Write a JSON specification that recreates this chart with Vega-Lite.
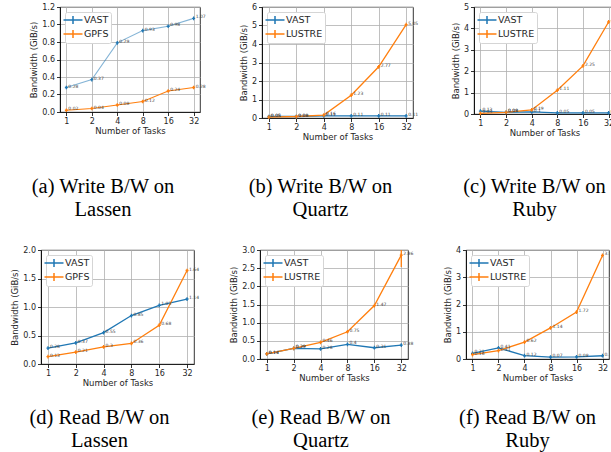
{
  "$schema": "https://vega.github.io/schema/vega-lite/v6.json",
  "background": "white",
  "padding": {"left": 10, "top": 2, "right": 0, "bottom": 0},
  "datasets": {
    "pts": [
      {"p":"a","s":"VAST","t":1,"v":0.28},{"p":"a","s":"VAST","t":2,"v":0.37},{"p":"a","s":"VAST","t":4,"v":0.79},{"p":"a","s":"VAST","t":8,"v":0.93},{"p":"a","s":"VAST","t":16,"v":0.98},{"p":"a","s":"VAST","t":32,"v":1.07},
      {"p":"a","s":"GPFS","t":1,"v":0.02},{"p":"a","s":"GPFS","t":2,"v":0.04},{"p":"a","s":"GPFS","t":4,"v":0.08},{"p":"a","s":"GPFS","t":8,"v":0.12},{"p":"a","s":"GPFS","t":16,"v":0.24},{"p":"a","s":"GPFS","t":32,"v":0.28},
      {"p":"b","s":"VAST","t":1,"v":0.08},{"p":"b","s":"VAST","t":2,"v":0.08},{"p":"b","s":"VAST","t":4,"v":0.11},{"p":"b","s":"VAST","t":8,"v":0.11},{"p":"b","s":"VAST","t":16,"v":0.11},{"p":"b","s":"VAST","t":32,"v":0.11},
      {"p":"b","s":"LUSTRE","t":1,"v":0.05},{"p":"b","s":"LUSTRE","t":2,"v":0.08},{"p":"b","s":"LUSTRE","t":4,"v":0.16},{"p":"b","s":"LUSTRE","t":8,"v":1.23},{"p":"b","s":"LUSTRE","t":16,"v":2.77},{"p":"b","s":"LUSTRE","t":32,"v":5.05},
      {"p":"c","s":"VAST","t":1,"v":0.13},{"p":"c","s":"VAST","t":2,"v":0.08},{"p":"c","s":"VAST","t":4,"v":0.1},{"p":"c","s":"VAST","t":8,"v":0.05},{"p":"c","s":"VAST","t":16,"v":0.05},{"p":"c","s":"VAST","t":32,"v":0.05},
      {"p":"c","s":"LUSTRE","t":1,"v":0.03},{"p":"c","s":"LUSTRE","t":2,"v":0.08},{"p":"c","s":"LUSTRE","t":4,"v":0.19},{"p":"c","s":"LUSTRE","t":8,"v":1.11},{"p":"c","s":"LUSTRE","t":16,"v":2.25},{"p":"c","s":"LUSTRE","t":32,"v":4.3},
      {"p":"d","s":"VAST","t":1,"v":0.28},{"p":"d","s":"VAST","t":2,"v":0.37},{"p":"d","s":"VAST","t":4,"v":0.55},{"p":"d","s":"VAST","t":8,"v":0.85},{"p":"d","s":"VAST","t":16,"v":1.03},{"p":"d","s":"VAST","t":32,"v":1.14},
      {"p":"d","s":"GPFS","t":1,"v":0.13},{"p":"d","s":"GPFS","t":2,"v":0.21},{"p":"d","s":"GPFS","t":4,"v":0.3},{"p":"d","s":"GPFS","t":8,"v":0.36},{"p":"d","s":"GPFS","t":16,"v":0.68},{"p":"d","s":"GPFS","t":32,"v":1.64},
      {"p":"e","s":"VAST","t":1,"v":0.14},{"p":"e","s":"VAST","t":2,"v":0.29},{"p":"e","s":"VAST","t":4,"v":0.28},{"p":"e","s":"VAST","t":8,"v":0.4},{"p":"e","s":"VAST","t":16,"v":0.31},{"p":"e","s":"VAST","t":32,"v":0.38},
      {"p":"e","s":"LUSTRE","t":1,"v":0.14},{"p":"e","s":"LUSTRE","t":2,"v":0.29},{"p":"e","s":"LUSTRE","t":4,"v":0.46},{"p":"e","s":"LUSTRE","t":8,"v":0.75},{"p":"e","s":"LUSTRE","t":16,"v":1.47},{"p":"e","s":"LUSTRE","t":32,"v":2.86},
      {"p":"f","s":"VAST","t":1,"v":0.21},{"p":"f","s":"VAST","t":2,"v":0.41},{"p":"f","s":"VAST","t":4,"v":0.12},{"p":"f","s":"VAST","t":8,"v":0.07},{"p":"f","s":"VAST","t":16,"v":0.08},{"p":"f","s":"VAST","t":32,"v":0.12},
      {"p":"f","s":"LUSTRE","t":1,"v":0.16},{"p":"f","s":"LUSTRE","t":2,"v":0.31},{"p":"f","s":"LUSTRE","t":4,"v":0.62},{"p":"f","s":"LUSTRE","t":8,"v":1.14},{"p":"f","s":"LUSTRE","t":16,"v":1.72},{"p":"f","s":"LUSTRE","t":32,"v":3.8}
    ],
    "err": [
      {"p":"e","s":"LUSTRE","t":32,"lo":2.53,"hi":3.2}
    ]
  },
  "config": {
    "font": "DejaVu Sans",
    "view": {"stroke": "#000000", "strokeWidth": 0.8},
    "axis": {"labelFont":"DejaVu Sans","labelFontSize":8,"labelColor":"#262626","titleFont":"DejaVu Sans","titleFontSize":8.5,"titleFontWeight":"normal","titleColor":"#262626","grid":true,"gridColor":"#b0b0b0","gridWidth":0.8,"gridOpacity":1,"tickColor":"#000000","tickSize":3.5,"tickWidth":0.8,"domainColor":"#000000","domainWidth":0.8,"labelPadding":2,"titlePadding":3,"labelFlush":false,"labelOverlap":false},
    "axisX": {"labelAngle":0, "titlePadding": 1},
    "title": {"font":"Liberation Serif","fontSize":20.5,"fontWeight":"normal","color":"#000000","anchor":"middle","frame":"group","lineHeight":23},
    "legend": {"orient":"top-left","offset":5,"padding":2,"strokeColor":"#d5d5d5","fillColor":"#ffffff","cornerRadius":2,"labelFont":"DejaVu Sans","labelFontSize":9.5,"labelColor":"#262626","labelOffset":5,"rowPadding":0}
  },
  "spacing": 24,
  "align": "none",
  "resolve": {"scale": {"color": "independent"}, "legend": {"color": "independent"}},
  "vconcat": [
    {
      "spacing": -13,
      "align": "none",
      "resolve": {"scale": {"color": "independent"}, "legend": {"color": "independent"}},
      "hconcat": [
        {"width": 1, "height": 1, "data": {"values": []}, "mark": "point", "view": {"stroke": null}},
        {
          "spacing": 32,
          "align": "none",
          "resolve": {"scale": {"color": "independent"}, "legend": {"color": "independent"}},
          "hconcat": [
            {
              "width": 140, "height": 105,
              "title": {"text": ["(a) Write B/W on", "Lassen"], "orient": "bottom", "offset": 42, "dx": -27},
              "data": {"name": "pts"},
              "transform": [{"filter": "datum.p === 'a'"}],
              "encoding": {
                "x": {"field": "t", "type": "quantitative", "scale": {"type": "log", "base": 2, "domain": [0.841, 38.05], "nice": false}, "axis": {"values": [1,2,4,8,16,32], "format": "d", "title": "Number of Tasks"}},
                "y": {"field": "v", "type": "quantitative", "scale": {"domain": [0, 1.2], "nice": false}, "axis": {"values": [0,0.2,0.4,0.6,0.8,1.0,1.2], "format": ".1f", "title": "Bandwidth (GiB/s)"}},
                "color": {"field": "s", "type": "nominal", "scale": {"domain": ["VAST","GPFS"], "range": ["#1f77b4","#ff7f0e"]}, "legend": {"title": null, "symbolType": "M-1.9,0H1.9M0,-0.8V0.8", "symbolSize": 100, "symbolStrokeWidth": 1.5}}
              },
              "layer": [
                {"mark": {"type": "line", "strokeWidth": 1.1}, "encoding": {"opacity": {"condition": {"test": "datum.s === 'VAST'", "value": 0.55}, "value": 1}}},
                {"mark": {"type": "point", "shape": "M0,-1V1M-0.8,0H0.8", "size": 14, "filled": false, "strokeWidth": 1.3, "opacity": 1}},
                {"mark": {"type": "text", "align": "left", "baseline": "middle", "dx": 2, "dy": -1, "fontSize": 4.5, "color": "#444444"}, "encoding": {"text": {"field": "v"}, "color": {"value": "#444444"}}}
              ]
            },
            {
              "width": 151, "height": 111,
              "title": {"text": ["(b) Write B/W on", "Quartz"], "orient": "bottom", "offset": 36, "dx": -17},
              "data": {"name": "pts"},
              "transform": [{"filter": "datum.p === 'b'"}],
              "encoding": {
                "x": {"field": "t", "type": "quantitative", "scale": {"type": "log", "base": 2, "domain": [0.841, 38.05], "nice": false}, "axis": {"values": [1,2,4,8,16,32], "format": "d", "title": "Number of Tasks"}},
                "y": {"field": "v", "type": "quantitative", "scale": {"domain": [0, 6], "nice": false}, "axis": {"values": [0,1,2,3,4,5,6], "format": "d", "title": "Bandwidth (GiB/s)"}},
                "color": {"field": "s", "type": "nominal", "scale": {"domain": ["VAST","LUSTRE"], "range": ["#1f77b4","#ff7f0e"]}, "legend": {"title": null, "symbolType": "M-1.9,0H1.9M0,-0.8V0.8", "symbolSize": 100, "symbolStrokeWidth": 1.5}}
              },
              "layer": [
                {"mark": {"type": "line", "strokeWidth": 1.3}},
                {"mark": {"type": "point", "shape": "M0,-1V1M-0.8,0H0.8", "size": 14, "filled": false, "strokeWidth": 1.3, "opacity": 1}},
                {"mark": {"type": "text", "align": "left", "baseline": "middle", "dx": 2, "dy": -1, "fontSize": 4.5, "color": "#444444"}, "encoding": {"text": {"field": "v"}, "color": {"value": "#444444"}}}
              ]
            },
            {
              "width": 141, "height": 107,
              "title": {"text": ["(c) Write B/W on", "Ruby"], "orient": "bottom", "offset": 40, "dx": -10},
              "data": {"name": "pts"},
              "transform": [{"filter": "datum.p === 'c'"}],
              "encoding": {
                "x": {"field": "t", "type": "quantitative", "scale": {"type": "log", "base": 2, "domain": [0.841, 38.05], "nice": false}, "axis": {"values": [1,2,4,8,16,32], "format": "d", "title": "Number of Tasks"}},
                "y": {"field": "v", "type": "quantitative", "scale": {"domain": [0, 5], "nice": false}, "axis": {"values": [0,1,2,3,4,5], "format": "d", "title": "Bandwidth (GiB/s)"}},
                "color": {"field": "s", "type": "nominal", "scale": {"domain": ["VAST","LUSTRE"], "range": ["#1f77b4","#ff7f0e"]}, "legend": {"title": null, "symbolType": "M-1.9,0H1.9M0,-0.8V0.8", "symbolSize": 100, "symbolStrokeWidth": 1.5}}
              },
              "layer": [
                {"mark": {"type": "line", "strokeWidth": 1.3}},
                {"mark": {"type": "point", "shape": "M0,-1V1M-0.8,0H0.8", "size": 14, "filled": false, "strokeWidth": 1.3, "opacity": 1}},
                {"mark": {"type": "text", "align": "left", "baseline": "middle", "dx": 2, "dy": -1, "fontSize": 4.5, "color": "#444444", "clip": true}, "encoding": {"text": {"field": "v"}, "color": {"value": "#444444"}}}
              ]
            }
          ]
        }
      ]
    },
    {
      "spacing": 29,
      "align": "none",
      "resolve": {"scale": {"color": "independent"}, "legend": {"color": "independent"}},
      "hconcat": [
        {
          "width": 153, "height": 114,
          "title": {"text": ["(d) Read B/W  on", "Lassen"], "orient": "bottom", "offset": 21, "dx": -18},
          "data": {"name": "pts"},
          "transform": [{"filter": "datum.p === 'd'"}],
          "encoding": {
            "x": {"field": "t", "type": "quantitative", "scale": {"type": "log", "base": 2, "domain": [0.841, 38.05], "nice": false}, "axis": {"values": [1,2,4,8,16,32], "format": "d", "title": "Number of Tasks"}},
            "y": {"field": "v", "type": "quantitative", "scale": {"domain": [0, 2], "nice": false}, "axis": {"values": [0,0.5,1,1.5,2], "format": ".1f", "title": "Bandwidth (GiB/s)"}},
            "color": {"field": "s", "type": "nominal", "scale": {"domain": ["VAST","GPFS"], "range": ["#1f77b4","#ff7f0e"]}, "legend": {"title": null, "symbolType": "M-1.9,0H1.9M0,-0.8V0.8", "symbolSize": 100, "symbolStrokeWidth": 1.5}}
          },
          "layer": [
            {"mark": {"type": "line", "strokeWidth": 1.3}},
            {"mark": {"type": "point", "shape": "M0,-1V1M-0.8,0H0.8", "size": 14, "filled": false, "strokeWidth": 1.3, "opacity": 1}},
            {"mark": {"type": "text", "align": "left", "baseline": "middle", "dx": 2, "dy": -1, "fontSize": 4.5, "color": "#444444"}, "encoding": {"text": {"field": "v"}, "color": {"value": "#444444"}}}
          ]
        },
        {
          "width": 148, "height": 109,
          "title": {"text": ["(e) Read B/W  on", "Quartz"], "orient": "bottom", "offset": 26, "dx": -13},
          "data": {"name": "pts"},
          "transform": [{"filter": "datum.p === 'e'"}],
          "encoding": {
            "x": {"field": "t", "type": "quantitative", "scale": {"type": "log", "base": 2, "domain": [0.841, 38.05], "nice": false}, "axis": {"values": [1,2,4,8,16,32], "format": "d", "title": "Number of Tasks"}},
            "y": {"field": "v", "type": "quantitative", "scale": {"domain": [0, 3], "nice": false}, "axis": {"values": [0,0.5,1,1.5,2,2.5,3], "format": ".1f"}, "title": "Bandwidth (GiB/s)"},
            "color": {"field": "s", "type": "nominal", "scale": {"domain": ["VAST","LUSTRE"], "range": ["#1f77b4","#ff7f0e"]}, "legend": {"title": null, "symbolType": "M-1.9,0H1.9M0,-0.8V0.8", "symbolSize": 100, "symbolStrokeWidth": 1.5}}
          },
          "layer": [
            {"mark": {"type": "line", "strokeWidth": 1.3}},
            {"mark": {"type": "point", "shape": "M0,-1V1M-0.8,0H0.8", "size": 14, "filled": false, "strokeWidth": 1.3, "opacity": 1}},
            {"mark": {"type": "text", "align": "left", "baseline": "middle", "dx": 2, "dy": -1, "fontSize": 4.5, "color": "#444444"}, "encoding": {"text": {"field": "v"}, "color": {"value": "#444444"}}},
            {"data": {"name": "err"}, "mark": {"type": "rule", "strokeWidth": 1.3, "clip": true}, "encoding": {"y": {"field": "lo", "type": "quantitative", "title": "Bandwidth (GiB/s)"}, "y2": {"field": "hi"}}}
          ]
        },
        {
          "width": 143, "height": 109,
          "title": {"text": ["(f) Read B/W  on", "Ruby"], "orient": "bottom", "offset": 26, "dx": -10},
          "data": {"name": "pts"},
          "transform": [{"filter": "datum.p === 'f'"}],
          "encoding": {
            "x": {"field": "t", "type": "quantitative", "scale": {"type": "log", "base": 2, "domain": [0.841, 38.05], "nice": false}, "axis": {"values": [1,2,4,8,16,32], "format": "d", "title": "Number of Tasks"}},
            "y": {"field": "v", "type": "quantitative", "scale": {"domain": [0, 4], "nice": false}, "axis": {"values": [0,1,2,3,4], "format": "d", "title": "Bandwidth (GiB/s)"}},
            "color": {"field": "s", "type": "nominal", "scale": {"domain": ["VAST","LUSTRE"], "range": ["#1f77b4","#ff7f0e"]}, "legend": {"title": null, "symbolType": "M-1.9,0H1.9M0,-0.8V0.8", "symbolSize": 100, "symbolStrokeWidth": 1.5}}
          },
          "layer": [
            {"mark": {"type": "line", "strokeWidth": 1.3}},
            {"mark": {"type": "point", "shape": "M0,-1V1M-0.8,0H0.8", "size": 14, "filled": false, "strokeWidth": 1.3, "opacity": 1}},
            {"mark": {"type": "text", "align": "left", "baseline": "middle", "dx": 2, "dy": -1, "fontSize": 4.5, "color": "#444444", "clip": true}, "encoding": {"text": {"field": "v"}, "color": {"value": "#444444"}}}
          ]
        }
      ]
    }
  ]
}
